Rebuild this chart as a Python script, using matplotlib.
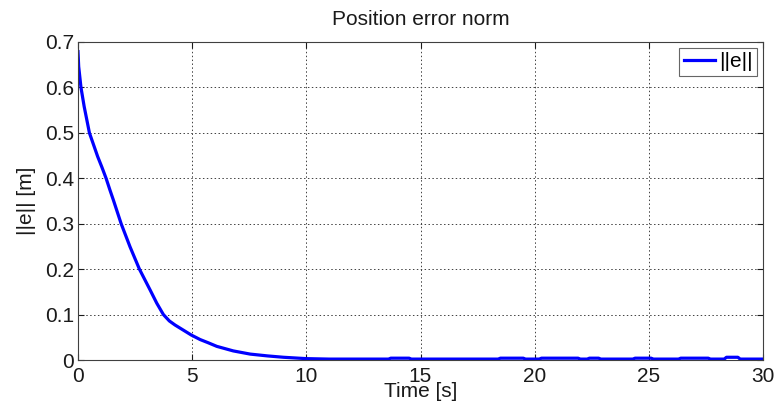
import numpy as np
import matplotlib.pyplot as plt

# error norm samples, time [s] and ||e|| [m]
t = [0.0, 0.03, 0.13, 0.27, 0.5, 0.86, 1.05, 1.23, 1.40, 1.55, 1.89, 2.28,
     2.69, 3.16, 3.45, 3.74, 4.0, 4.25, 4.96, 5.35, 5.7, 6.08, 6.8, 7.54,
     8.3, 9.0, 10.0, 11.0,
     13.6, 13.7, 14.5, 14.6, 18.4, 18.5, 19.5, 19.6, 20.2, 20.3, 21.9, 22.0,
     22.3, 22.4, 22.8, 22.9, 24.3, 24.4, 25.1, 25.2, 26.3, 26.4, 27.6, 27.7,
     28.3, 28.4, 28.9, 29.0, 30.0]
e = [0.679, 0.646, 0.600, 0.558, 0.500, 0.448, 0.424, 0.400, 0.374, 0.352,
     0.300, 0.249, 0.200, 0.154, 0.125, 0.100, 0.086, 0.077, 0.055, 0.045,
     0.038, 0.030, 0.020, 0.013, 0.009, 0.006, 0.003, 0.002,
     0.002, 0.004, 0.004, 0.002, 0.002, 0.004, 0.004, 0.002, 0.002, 0.004, 0.004, 0.002,
     0.002, 0.004, 0.004, 0.002, 0.002, 0.004, 0.004, 0.002, 0.002, 0.004, 0.004, 0.002,
     0.002, 0.006, 0.006, 0.002, 0.002]

xticks = [0, 5, 10, 15, 20, 25, 30]
yticks = [0, 0.1, 0.2, 0.3, 0.4, 0.5, 0.6, 0.7]
ytick_labels = ['0', '0.1', '0.2', '0.3', '0.4', '0.5', '0.6', '0.7']

plt.rcParams['font.family'] = ['Liberation Sans', 'DejaVu Sans']
txt = '#1a1a1a'

fig = plt.figure(figsize=(7.77, 4.05), dpi=100)
ax = fig.add_axes([78 / 777, 45 / 405, 685 / 777, 318 / 405])

ax.plot(t, e, color='#0000ff', lw=2.3, label='||e||')

ax.set_xlim(0, 30)
ax.set_ylim(0, 0.7)
ax.set_xticks(xticks)
ax.set_yticks(yticks)
ax.set_yticklabels(ytick_labels)
ax.tick_params(direction='in', length=4, labelsize=15, colors=txt,
               top=True, right=True, pad=3)
ax.tick_params(axis='x', pad=5)
for s in ax.spines.values():
    s.set_color('#404040')
    s.set_linewidth(0.8)
ax.grid(True, ls=(0, (1.5, 2.5)), color='#404040', lw=0.7)

ax.set_title('Position error norm', fontsize=15, color=txt, pad=12)
ax.set_xlabel('Time [s]', fontsize=15, color=txt, labelpad=-3)
ax.set_ylabel('||e|| [m]', fontsize=15, color=txt, labelpad=6)

leg = ax.legend(loc='upper right', fontsize=15, handlelength=1.5,
                handletextpad=0.2, borderpad=0.2, fancybox=False,
                borderaxespad=0.3)
leg.get_frame().set_edgecolor('#404040')
leg.get_frame().set_linewidth(0.8)

fig.savefig('out.png', dpi=100)
